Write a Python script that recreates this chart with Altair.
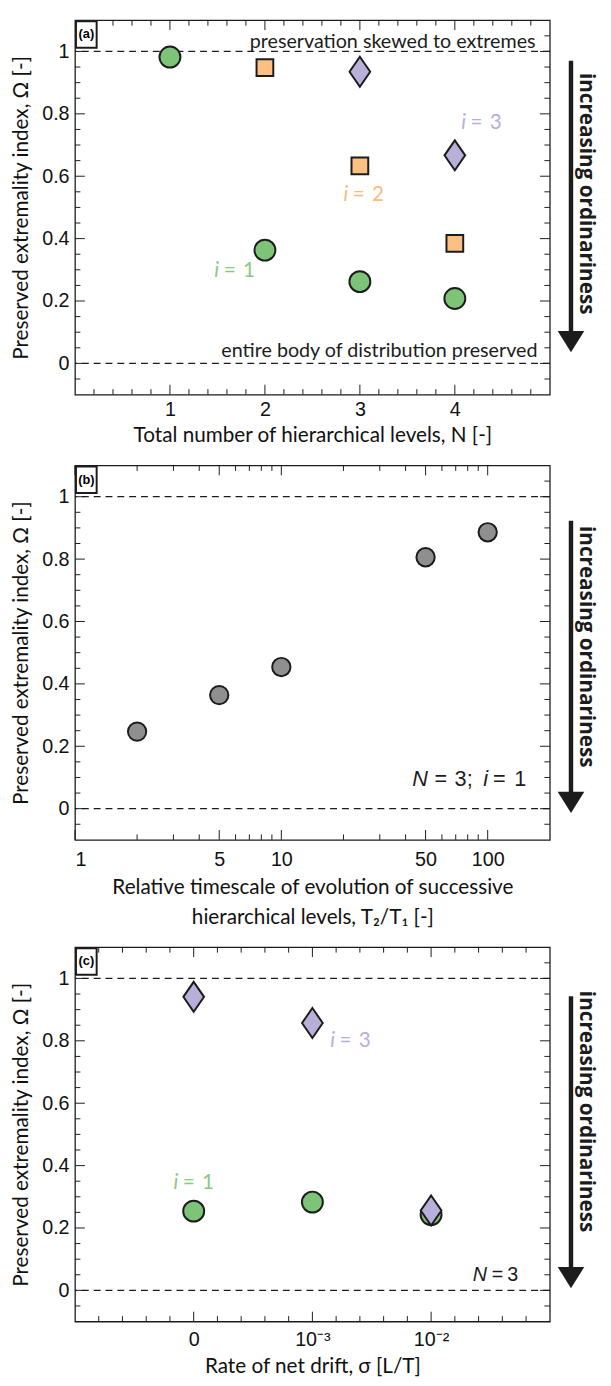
import altair as alt
import numpy as np
import pandas as pd

# ---------------- data ----------------
# panel (a): Omega vs total number of hierarchical levels N
a_N_i1 = [1, 2, 3, 4]
a_om_i1 = [0.982, 0.363, 0.262, 0.208]
a_N_i2 = [2, 3, 4]
a_om_i2 = [0.948, 0.633, 0.385]
a_N_i3 = [3, 4]
a_om_i3 = [0.935, 0.667]
a_xticks = [1, 2, 3, 4]

# panel (b): Omega vs T2/T1 (N = 3, i = 1)
b_ratio = [2, 5, 10, 50, 100]
b_om = [0.247, 0.364, 0.454, 0.806, 0.886]
b_xticks = [1, 5, 10, 50, 100]
b_minor = [2, 3, 4, 6, 7, 8, 9, 20, 30, 40, 60, 70, 80, 90]

# panel (c): Omega vs rate of net drift (N = 3)
c_labels = ["0", "10⁻³", "10⁻²"]
c_pos = [0, 1, 2]
c_om_i1 = [0.254, 0.283, 0.243]
c_om_i3 = [0.941, 0.857, 0.256]

y_ticks = [0, 0.2, 0.4, 0.6, 0.8, 1]

# ---------------- style ----------------
W, H = 482, 380
GREEN = "#7DC478"
ORANGE = "#FDBF82"
PURPLE = "#B9B0DA"
GRAY = "#8F8F8F"
EDGE = "#1c1c1c"
GREEN_T = "#86CC7E"
ORANGE_T = "#FBBB7C"
PURPLE_T = "#B8AEDC"
TFONT = "Lato"
LFONT = "Liberation Sans"
DIAMOND = "M0,-1.45L1,0L0,1.45L-1,0Z"
HEAD = "M-1,-1.6L1,-1.6L0,0Z"
MAJ, MIN = 10, 5.5

yscale = alt.Scale(domain=[-0.1, 1.1], nice=False, zero=False)
yaxis = alt.Axis(values=y_ticks, format="~g", title="Preserved extremality index, Ω  [-]",
                 ticks=False, tickSize=0, domain=False, grid=False, labelPadding=6,
                 labelFontSize=20, titleFontSize=21, titlePadding=10)
y_minor = [v for v in np.round(np.arange(-0.05, 1.1, 0.05), 2) if v not in y_ticks]


def Y(field):
    return alt.Y(field, type="quantitative", scale=yscale, axis=yaxis)


def panel(xscale, xaxis, xmaj, xmin, marks, label, arrow):
    def X(field):
        return alt.X(field, type="quantitative", scale=xscale, axis=xaxis)

    layers = []
    # inward ticks on all four sides
    for vals, L in ((xmaj, MAJ), (xmin, MIN)):
        base = alt.Chart(pd.DataFrame({"x": vals})).mark_rule(color=EDGE, strokeWidth=1)
        layers.append(base.encode(x=X("x"), y=alt.value(0), y2=alt.value(L)))
        layers.append(base.encode(x=X("x"), y=alt.value(H - L), y2=alt.value(H)))
    for vals, L in ((y_ticks, MAJ), (y_minor, MIN)):
        base = alt.Chart(pd.DataFrame({"y": vals})).mark_rule(color=EDGE, strokeWidth=1)
        layers.append(base.encode(y=Y("y"), x=alt.value(0), x2=alt.value(L)))
        layers.append(base.encode(y=Y("y"), x=alt.value(W - L), x2=alt.value(W)))
    # dashed reference lines
    layers.append(alt.Chart(pd.DataFrame({"y": [0, 1]})).mark_rule(
        color=EDGE, strokeWidth=1.3, strokeDash=[7, 5]).encode(y=Y("y")))
    # panel label box
    lab = alt.Chart(pd.DataFrame({"t": [label]}))
    layers.append(lab.mark_rect(fill="white", stroke=EDGE, strokeWidth=2).encode(
        x=alt.value(1), x2=alt.value(22), y=alt.value(1), y2=alt.value(28)))
    layers.append(lab.mark_text(font=LFONT, fontWeight="bold", fontSize=13, color="black").encode(
        x=alt.value(11.5), y=alt.value(14.5), text="t:N"))
    # arrow "increasing ordinariness"
    top, tip, mid = arrow
    ar = alt.Chart(pd.DataFrame({"y1": [top], "y2": [tip + 0.03], "tip": [tip], "mid": [mid],
                                 "t": ["increasing ordinariness"]}))
    layers.append(ar.mark_rule(color=EDGE, strokeWidth=4.5).encode(
        x=alt.value(503.5), y=Y("y1"), y2="y2:Q"))
    layers.append(ar.mark_point(shape=HEAD, filled=True, fill=EDGE, size=729, opacity=1,
                                strokeWidth=0).encode(x=alt.value(503.5), y=Y("tip")))
    layers.append(ar.mark_text(angle=90, font="Open Sans", fontWeight="bold", fontSize=21,
                               color=EDGE, baseline="middle", align="center").encode(
        x=alt.value(519), y=Y("mid"), text="t:N"))
    for m in marks:
        layers.append(m(X))
    return alt.layer(*layers).properties(width=W, height=H)


def points(xs, ys, shape, fill, size):
    def f(X):
        return alt.Chart(pd.DataFrame({"x": xs, "y": ys})).mark_point(
            shape=shape, filled=True, fill=fill, stroke=EDGE, strokeWidth=2, size=size,
            opacity=1, fillOpacity=1, strokeOpacity=1).encode(x=X("x"), y=Y("y"))
    return f


def pieces(x, y, parts, font, size, color):
    # parts: list of (text, italic, dx) placed left-aligned from an anchor
    def f(X):
        df = pd.DataFrame({"x": [x], "y": [y]})
        ls = []
        for txt, ital, dx in parts:
            ls.append(alt.Chart(df).mark_text(
                font=font, fontSize=size, color=color, align="left", baseline="middle",
                fontStyle="italic" if ital else "normal", dx=dx).encode(
                x=X("x"), y=Y("y"), text=alt.value(txt)))
        return alt.layer(*ls)
    return f


def ilab(x, y, num, color):
    return pieces(x, y, [("i", True, -20.5), ("=", False, -11), (num, False, 8.5)],
                  TFONT, 21, color)


def plain(x, y, txt, align):
    def f(X):
        return alt.Chart(pd.DataFrame({"x": [x], "y": [y], "t": [txt]})).mark_text(
            font=TFONT, fontSize=20, color=EDGE, align=align, baseline="middle").encode(
            x=X("x"), y=Y("y"), text="t:N")
    return f


# ---------------- panel (a) ----------------
xa_scale = alt.Scale(domain=[0, 5], nice=False, zero=False)
xa_axis = alt.Axis(values=a_xticks, format="d", title="Total number of hierarchical levels, N [-]",
                   ticks=False, tickSize=0, domain=False, grid=False, labelPadding=5,
                   labelFontSize=20, titleFontSize=21, titlePadding=6)
a_minor = [v for v in np.round(np.arange(0.2, 5.0, 0.2), 2) if v not in a_xticks]
pa = panel(xa_scale, xa_axis, a_xticks, a_minor, [
    plain(4.85, 1.03, "preservation skewed to extremes", "right"),
    plain(4.87, 0.04, "entire body of distribution preserved", "right"),
    points(a_N_i1, a_om_i1, "circle", GREEN, 452),
    points(a_N_i2, a_om_i2, "square", ORANGE, 289),
    points(a_N_i3, a_om_i3, DIAMOND, PURPLE, 441),
    ilab(4.28, 0.77, "3", PURPLE_T),
    ilab(3.04, 0.54, "2", ORANGE_T),
    ilab(1.68, 0.295, "1", GREEN_T),
], "(a)", (0.97, 0.036, 0.544))

# ---------------- panel (b) ----------------
xb_scale = alt.Scale(type="log", domain=[1, 200], nice=False)
xb_axis = alt.Axis(values=b_xticks, format="~g",
                   title=["Relative timescale of evolution of successive",
                          "hierarchical levels, T₂/T₁ [-]"],
                   ticks=False, tickSize=0, domain=False, grid=False, labelPadding=10,
                   labelFontSize=20, titleFontSize=21, titlePadding=7.5, titleLineHeight=30)
pb = panel(xb_scale, xb_axis, b_xticks, b_minor, [
    points(b_ratio, b_om, "circle", GRAY, 346),
    pieces(43.1, 0.096, [("N", True, 0), ("=", False, 22.5), ("3;", False, 43),
                         ("i", True, 72), ("=", False, 82), ("1", False, 103.5)],
           LFONT, 22, EDGE),
], "(b)", (0.923, -0.014, 0.519))

# ---------------- panel (c) ----------------
xc_scale = alt.Scale(domain=[-1, 3], nice=False, zero=False)
lab_expr = "[" + ",".join("'" + s + "'" for s in c_labels) + "][datum.value]"
xc_axis = alt.Axis(values=c_pos, labelExpr=lab_expr, title="Rate of net drift, σ [L/T]",
                   ticks=False, tickSize=0, domain=False, grid=False, labelPadding=8,
                   labelFontSize=20, titleFontSize=21, titlePadding=7)
c_minor = [v for v in np.round(np.arange(-0.8, 3.0, 0.2), 2) if v not in c_pos]
pc = panel(xc_scale, xc_axis, c_pos, c_minor, [
    points(c_pos, c_om_i1, "circle", GREEN, 452),
    points(c_pos, c_om_i3, DIAMOND, PURPLE, 441),
    ilab(1.32, 0.80, "3", PURPLE_T),
    ilab(0.0, 0.345, "1", GREEN_T),
    pieces(2.35, 0.05, [("N", True, 0), ("=", False, 19.5), ("3", False, 35)], LFONT, 20, EDGE),
], "(c)", (0.943, 0.007, 0.573))

chart = alt.vconcat(pa, pb, pc, spacing=17).properties(
    padding={"left": 2, "right": 5, "top": 0, "bottom": 0}
).configure_view(stroke=EDGE, strokeWidth=1.3).configure_axis(
    labelFont=LFONT, titleFont=TFONT, titleFontWeight="normal",
    labelColor="#111111", titleColor="#111111")

chart.save("out.html", embed_options={"renderer": "svg", "actions": False})
